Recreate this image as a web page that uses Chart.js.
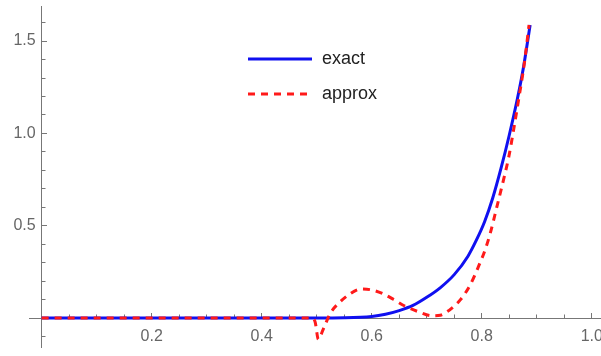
<!DOCTYPE html>
<html>
<head>
<meta charset="utf-8">
<script src="https://cdn.jsdelivr.net/npm/chart.js@4.4.1/dist/chart.umd.min.js"></script>
<style>
html,body{margin:0;padding:0;background:#fff;}
#c{display:block;}
</style>
</head>
<body>
<canvas id="c" width="601" height="356"></canvas>
<script>
// ---- data ----
const seriesNames = ["exact", "approx"];
const exactX = [0, 0.45, 0.5, 0.55, 0.6, 0.625, 0.65, 0.675, 0.7, 0.725, 0.75, 0.775, 0.79, 0.805, 0.82, 0.835, 0.85, 0.865, 0.876, 0.888];
const exactY = [0, 0, 0, 0.001, 0.008, 0.02, 0.04, 0.068, 0.112, 0.165, 0.235, 0.335, 0.42, 0.52, 0.65, 0.81, 0.99, 1.19, 1.36, 1.587];
const approxX = [0, 0.49, 0.497, 0.503, 0.512, 0.525, 0.54, 0.56, 0.58, 0.6, 0.62, 0.64, 0.66, 0.685, 0.71, 0.725, 0.737, 0.75, 0.761, 0.779, 0.794, 0.806, 0.8155, 0.8276, 0.8396, 0.849, 0.858, 0.868, 0.877, 0.886];
const approxY = [0, 0, -0.02, -0.115, -0.06, 0.027, 0.08, 0.13, 0.157, 0.152, 0.132, 0.1, 0.065, 0.034, 0.012, 0.015, 0.034, 0.065, 0.098, 0.179, 0.278, 0.368, 0.459, 0.603, 0.748, 0.87, 1.02, 1.2, 1.37, 1.587];
const xRange = [-0.023, 1.015];
const yRange = [-0.157, 1.69];
const xMajorStep = 0.2, xMinorStep = 0.05;
const yMajorStep = 0.5, yMinorStep = 0.1;

const axisColor = '#777';
const labelColor = '#666';
const fontFamily = "'Liberation Sans', Arial, sans-serif";

function pts(xs, ys){ return xs.map((x,i)=>({x:x, y:ys[i]})); }
function fmt(v){ return Math.abs(v) < 1e-9 || v < 0 ? '' : v.toFixed(1); }
function noPad(scale){ scale.paddingLeft = 0; scale.paddingRight = 0; scale.paddingTop = 0; scale.paddingBottom = 0; }

// move the y tick labels a little away from the axis line (gap as in the reference)
const yLabelGap = {
  id: 'yLabelGap',
  beforeDraw(chart){
    const s = chart.scales.y;
    const items = s.getLabelItems(chart.chartArea);
    if (items._shifted) return;
    items.forEach(it => { it.options.translation = [it.options.translation[0] - 6, it.options.translation[1]]; });
    items._shifted = true;
  }
};

const legendPlugin = {
  id: 'inlineLegend',
  afterDraw(chart){
    const ctx = chart.ctx;
    const items = [
      {ds: chart.data.datasets[1], y: 59},
      {ds: chart.data.datasets[0], y: 94}
    ];
    ctx.save();
    items.forEach(it => {
      ctx.beginPath();
      ctx.strokeStyle = it.ds.borderColor;
      ctx.lineWidth = it.ds.borderWidth;
      ctx.setLineDash(it.ds.borderDash || []);
      ctx.moveTo(248, it.y);
      ctx.lineTo(312, it.y);
      ctx.stroke();
      ctx.setLineDash([]);
      ctx.fillStyle = '#222';
      ctx.font = "18px " + fontFamily;
      ctx.textBaseline = 'middle';
      ctx.textAlign = 'left';
      ctx.fillText(it.ds.label, 322, it.y);
    });
    ctx.restore();
  }
};

new Chart(document.getElementById('c'), {
  type: 'line',
  data: {
    datasets: [
      {
        label: seriesNames[1],
        data: pts(approxX, approxY),
        borderColor: '#ff1a1a',
        borderWidth: 3,
        borderDash: [7, 6],
        pointRadius: 0,
        fill: false,
        cubicInterpolationMode: 'monotone',
        order: 0
      },
      {
        label: seriesNames[0],
        data: pts(exactX, exactY),
        borderColor: '#1010f0',
        borderWidth: 3,
        pointRadius: 0,
        fill: false,
        cubicInterpolationMode: 'monotone',
        order: 1
      }
    ]
  },
  options: {
    responsive: false,
    animation: false,
    devicePixelRatio: 1,
    layout: { padding: { left: 29, top: 6, right: 1, bottom: 9 } },
    plugins: { legend: { display: false }, tooltip: { enabled: false } },
    scales: {
      x: {
        type: 'linear', axis: 'x', min: xRange[0], max: xRange[1],
        position: { y: 0 },
        afterFit: noPad,
        border: { color: axisColor, width: 1 },
        grid: { drawOnChartArea: false, tickLength: -6, tickColor: axisColor },
        ticks: {
          stepSize: xMajorStep, includeBounds: false, autoSkip: false, maxRotation: 0,
          padding: 15, color: labelColor, font: { family: fontFamily, size: 16 },
          callback: v => fmt(v)
        }
      },
      x2: {
        type: 'linear', axis: 'x', min: xRange[0], max: xRange[1],
        position: { y: 0 },
        afterFit: noPad,
        border: { display: false },
        grid: { drawOnChartArea: false, tickLength: -3.5, tickColor: axisColor },
        ticks: { stepSize: xMinorStep, includeBounds: false, autoSkip: false, callback: () => '' }
      },
      y: {
        type: 'linear', axis: 'y', min: yRange[0], max: yRange[1],
        position: { x: 0 },
        afterFit: noPad,
        border: { color: axisColor, width: 1 },
        grid: { drawOnChartArea: false, tickLength: -6, tickColor: axisColor },
        ticks: {
          stepSize: yMajorStep, includeBounds: false, autoSkip: false,
          padding: 12, color: labelColor, font: { family: fontFamily, size: 16 },
          callback: v => fmt(v)
        }
      },
      y2: {
        type: 'linear', axis: 'y', min: yRange[0], max: yRange[1],
        position: { x: 0 },
        afterFit: noPad,
        border: { display: false },
        grid: { drawOnChartArea: false, tickLength: -3.5, tickColor: axisColor },
        ticks: { stepSize: yMinorStep, includeBounds: false, autoSkip: false, callback: () => '' }
      }
    }
  },
  plugins: [yLabelGap, legendPlugin]
});
</script>
</body>
</html>
